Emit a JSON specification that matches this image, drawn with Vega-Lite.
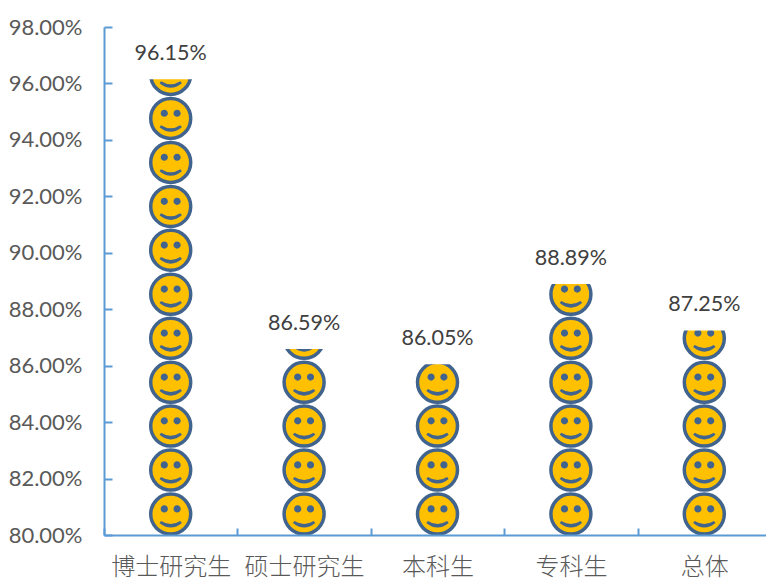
{
"$schema":"https://vega.github.io/schema/vega-lite/v6.json",
"width":662,"height":508,
"autosize":{"type":"none"},
"padding":{"left":104,"top":27,"right":0,"bottom":44},
"background":"white",
"view":{"stroke":null},
"datasets":{
"totals":[{"cat":"博士研究生","value":0.9615},{"cat":"硕士研究生","value":0.8659},{"cat":"本科生","value":0.8605},{"cat":"专科生","value":0.8889},{"cat":"总体","value":0.8725}],
"faces":[
{"cat":"博士研究生","y":0.8074},{"cat":"博士研究生","y":0.823},{"cat":"博士研究生","y":0.8386},{"cat":"博士研究生","y":0.8541},{"cat":"博士研究生","y":0.8697},{"cat":"博士研究生","y":0.8853},{"cat":"博士研究生","y":0.9009},{"cat":"博士研究生","y":0.9164},{"cat":"博士研究生","y":0.932},{"cat":"博士研究生","y":0.9476},{"cat":"博士研究生","y":0.9632},
{"cat":"硕士研究生","y":0.8074},{"cat":"硕士研究生","y":0.823},{"cat":"硕士研究生","y":0.8386},{"cat":"硕士研究生","y":0.8541},{"cat":"硕士研究生","y":0.8697},
{"cat":"本科生","y":0.8074},{"cat":"本科生","y":0.823},{"cat":"本科生","y":0.8386},{"cat":"本科生","y":0.8541},
{"cat":"专科生","y":0.8074},{"cat":"专科生","y":0.823},{"cat":"专科生","y":0.8386},{"cat":"专科生","y":0.8541},{"cat":"专科生","y":0.8697},{"cat":"专科生","y":0.8853},
{"cat":"总体","y":0.8074},{"cat":"总体","y":0.823},{"cat":"总体","y":0.8386},{"cat":"总体","y":0.8541},{"cat":"总体","y":0.8697}
]},
"encoding":{
"x":{"field":"cat","type":"nominal","sort":["博士研究生","硕士研究生","本科生","专科生","总体"],
"scale":{"range":[0,667],"paddingInner":0,"paddingOuter":0},
"axis":{"title":null,"labelAngle":0,"zindex":1,"grid":false,"domainColor":"#5B9BD5","domainWidth":2,"tickColor":"#5B9BD5","tickWidth":2,"tickSize":-7,"tickBand":"extent","labelFont":"Noto Sans CJK SC","labelFontSize":24,"labelFontWeight":300,"labelColor":"#595959","labelPadding":39,"labelBaseline":"middle"}}
},
"layer":[
{"data":{"name":"faces"},
"mark":{"type":"point","shape":"circle","filled":true,"fill":"#FFC000","stroke":"#41648F","strokeWidth":3.5,"opacity":1,"size":1600},
"encoding":{"y":{"field":"y","type":"quantitative","scale":{"domain":[0.8,0.98],"nice":false},
"axis":{"title":null,"format":".2%","values":[0.8,0.82,0.84,0.86,0.88,0.9,0.92,0.94,0.96,0.98],"zindex":1,"grid":false,"domainColor":"#5B9BD5","domainWidth":2,"tickColor":"#5B9BD5","tickWidth":2,"tickSize":-8,"labelFont":"Lato","labelFontSize":22,"labelColor":"#595959","labelPadding":30}}}},
{"data":{"name":"faces"},
"mark":{"type":"point","filled":true,"fill":"#41648F","strokeWidth":0,"opacity":1,"size":1600,
"shape":"M-0.5,-0.26a0.18,0.18 0 1,0 0.36,0a0.18,0.18 0 1,0 -0.36,0ZM0.14,-0.26a0.18,0.18 0 1,0 0.36,0a0.18,0.18 0 1,0 -0.36,0ZM-0.56,0.44Q0,0.9 0.56,0.44L0.48,0.34Q0,0.64 -0.48,0.34Z"},
"encoding":{"y":{"field":"y","type":"quantitative"}}},
{"data":{"name":"totals"},
"mark":{"type":"bar","color":"white","size":70},
"encoding":{"y":{"field":"value","type":"quantitative"},"y2":{"datum":0.98}}},
{"data":{"name":"totals"},
"mark":{"type":"text","font":"Lato","fontSize":21.5,"color":"#404040","baseline":"middle","dy":-25},
"encoding":{"y":{"field":"value","type":"quantitative"},"text":{"field":"value","type":"quantitative","format":".2%"}}}
]
}
